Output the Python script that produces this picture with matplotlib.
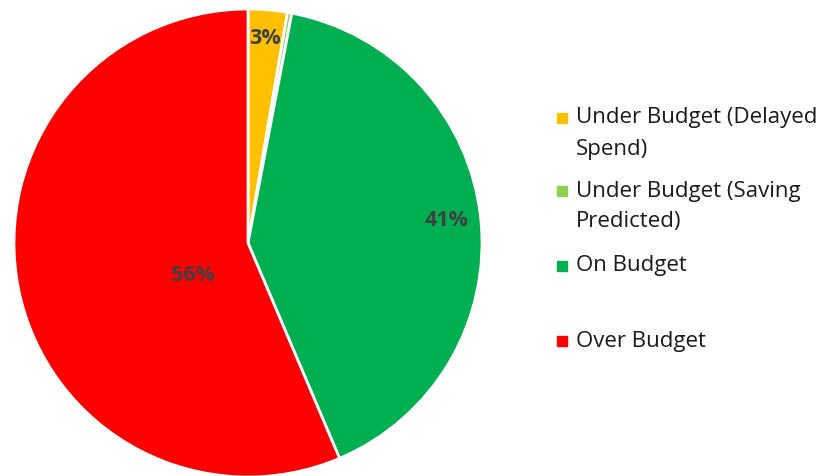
import matplotlib.pyplot as plt
from matplotlib.patches import Rectangle

categories = [
    "Under Budget (Delayed\nSpend)",
    "Under Budget (Saving\nPredicted)",
    "On Budget",
    "Over Budget",
]
shares = [2.7, 0.3, 40.6, 56.4]
colors = ["#FFC000", "#92D050", "#00B050", "#FF0000"]
pct_labels = ["3%", "", "41%", "56%"]

W, H = 823, 476
plt.rcParams["font.family"] = ["Open Sans", "DejaVu Sans"]

fig = plt.figure(figsize=(W / 100, H / 100), dpi=100)
# pie centred at (248, 243) px with a 234 px radius
ax = fig.add_axes([14 / W, (H - 477) / H, 468 / W, 468 / H])
wedges, _ = ax.pie(
    shares,
    colors=colors,
    startangle=90,
    counterclock=False,
    radius=1,
    wedgeprops={"edgecolor": "white", "linewidth": 2},
)
ax.set_xlim(-1, 1)
ax.set_ylim(-1, 1)
ax.set_aspect("equal")
ax.axis("off")

# data label spots (best-fit style)
label_pos = [(0.073, 0.876), None, (0.85, 0.098), (-0.235, -0.137)]
for txt, pos in zip(pct_labels, label_pos):
    if txt and pos:
        ax.text(pos[0], pos[1], txt, ha="center", va="center",
                fontsize=15.5, fontweight="bold", color="#404040")

# legend on the right
rows_y = [118, 191, 266, 341]
for name, col, y in zip(categories, colors, rows_y):
    fig.patches.append(Rectangle((557 / W, 1 - (y + 5) / H), 10 / W, 10 / H,
                                 transform=fig.transFigure, color=col))
    for i, line in enumerate(name.split("\n")):
        fig.text(576 / W, 1 - (y + 31 * i) / H, line, ha="left", va="center",
                 fontsize=16, color="#1a1a1a")

fig.savefig("out.png", dpi=100)
